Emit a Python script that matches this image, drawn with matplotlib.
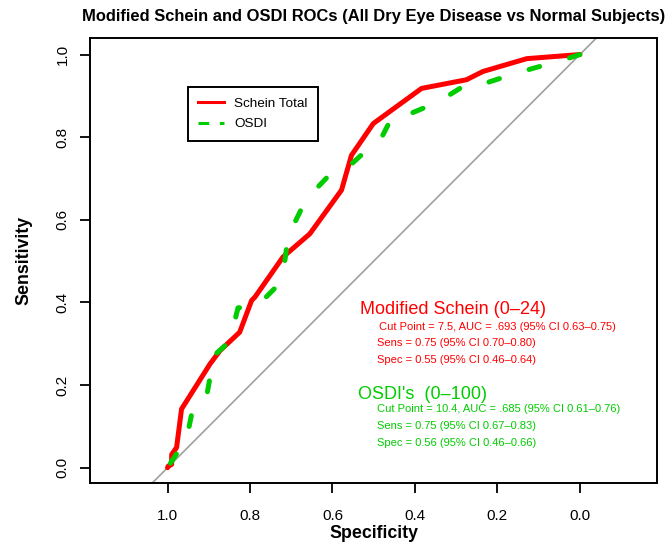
import matplotlib
matplotlib.use("Agg")
import matplotlib.pyplot as plt
from matplotlib.lines import Line2D

plt.rcParams['font.family'] = ['Liberation Sans', 'DejaVu Sans']

# ROC curve for Schein Total (specificity, sensitivity)
schein_spec = [0.0, 0.129, 0.235, 0.275, 0.384, 0.501, 0.554, 0.578, 0.655, 0.720,
               0.788, 0.796, 0.825, 0.873, 0.897, 0.966, 0.978, 0.990, 0.990, 0.998, 1.0]
schein_sens = [1.0, 0.990, 0.959, 0.939, 0.918, 0.833, 0.756, 0.672, 0.566, 0.510,
               0.413, 0.405, 0.328, 0.283, 0.251, 0.142, 0.049, 0.032, 0.008, 0.004, 0.0]

# ROC curve for OSDI
osdi_spec = [0.0, 0.040, 0.112, 0.154, 0.222, 0.267, 0.323, 0.335, 0.345, 0.356,
             0.416, 0.444, 0.457, 0.487, 0.493, 0.521, 0.566, 0.606, 0.651, 0.659,
             0.671, 0.703, 0.703, 0.711, 0.720, 0.741, 0.784, 0.829, 0.845, 0.849,
             0.861, 0.897, 0.897, 0.909, 0.926, 0.942, 0.954, 0.966, 0.974, 1.0]
osdi_sens = [1.0, 0.987, 0.967, 0.955, 0.933, 0.933, 0.898, 0.893, 0.885, 0.880,
             0.855, 0.855, 0.846, 0.787, 0.781, 0.765, 0.724, 0.710, 0.663, 0.649,
             0.635, 0.570, 0.550, 0.534, 0.468, 0.433, 0.390, 0.387, 0.324, 0.312,
             0.295, 0.263, 0.218, 0.152, 0.142, 0.127, 0.069, 0.053, 0.040, 0.0]

red = '#FF0000'
green = '#00CD00'

fig = plt.figure(figsize=(6.7, 5.45), dpi=100)
ax = fig.add_axes([90 / 670, 1 - 483 / 545, 567 / 670, 445 / 545])

# chance diagonal
ax.axline((1, 0), (0, 1), color='#A0A0A0', lw=1.2, zorder=1)

ax.plot(schein_spec, schein_sens, color=red, lw=3.6, solid_capstyle='round',
        solid_joinstyle='round', zorder=2)
ax.plot(osdi_spec, osdi_sens, color=green, lw=3.6, dashes=(2.2, 6.2),
        dash_capstyle='round', dash_joinstyle='round', zorder=3)

ax.set_xlim(1.188, -0.187)
ax.set_ylim(-0.037, 1.04)
ticks = [1.0, 0.8, 0.6, 0.4, 0.2, 0.0]
ax.set_xticks(ticks)
ax.set_yticks(ticks)
ax.set_xticklabels(['%.1f' % t for t in ticks])
ax.set_yticklabels(['%.1f' % t for t in ticks], rotation=90, va='center')
ax.tick_params(axis='both', direction='out', length=7.5, width=1.3, labelsize=11)
ax.tick_params(axis='x', pad=11)
ax.tick_params(axis='y', pad=7)
for s in ax.spines.values():
    s.set_linewidth(1.4)

ax.set_xlabel('Specificity', fontsize=12.8, fontweight='bold', labelpad=1.5)
ax.set_ylabel('Sensitivity', fontsize=12.8, fontweight='bold', labelpad=17)
fig.text(374 / 670, 1 - 17 / 545, 'Modified Schein and OSDI ROCs (All Dry Eye Disease vs Normal Subjects)',
         ha='center', va='center', fontsize=11.9, fontweight='bold')

handles = [Line2D([], [], color=red, lw=2.2),
           Line2D([], [], color=green, lw=2.2, dashes=(3.5, 3.5))]
leg = ax.legend(handles, ['Schein Total', 'OSDI'], loc='upper left',
                bbox_to_anchor=(0.1734, 0.889), fontsize=9.7, fancybox=False,
                framealpha=1, edgecolor='black', handlelength=1.9,
                borderpad=0.75, labelspacing=0.6, handletextpad=0.75, borderaxespad=0)
leg.get_frame().set_linewidth(1.4)

# annotation text
ax.text(0.5336, 0.383, 'Modified Schein (0\u201324)', color=red, fontsize=13, va='center')
ax.text(0.487, 0.3415, 'Cut Point = 7.5, AUC = .693 (95% CI 0.63\u20130.75)', color=red, fontsize=8.05, va='center')
ax.text(0.493, 0.302, 'Sens = 0.75 (95% CI 0.70\u20130.80)', color=red, fontsize=8.05, va='center')
ax.text(0.493, 0.261, 'Spec = 0.55 (95% CI 0.46\u20130.64)', color=red, fontsize=8.05, va='center')
ax.text(0.538, 0.178, "OSDI's  (0\u2013100)", color=green, fontsize=13, va='center')
ax.text(0.493, 0.142, 'Cut Point = 10.4, AUC = .685 (95% CI 0.61\u20130.76)', color=green, fontsize=8.05, va='center')
ax.text(0.493, 0.101, 'Sens = 0.75 (95% CI 0.67\u20130.83)', color=green, fontsize=8.05, va='center')
ax.text(0.493, 0.061, 'Spec = 0.56 (95% CI 0.46\u20130.66)', color=green, fontsize=8.05, va='center')

fig.savefig('out.png', dpi=100)
